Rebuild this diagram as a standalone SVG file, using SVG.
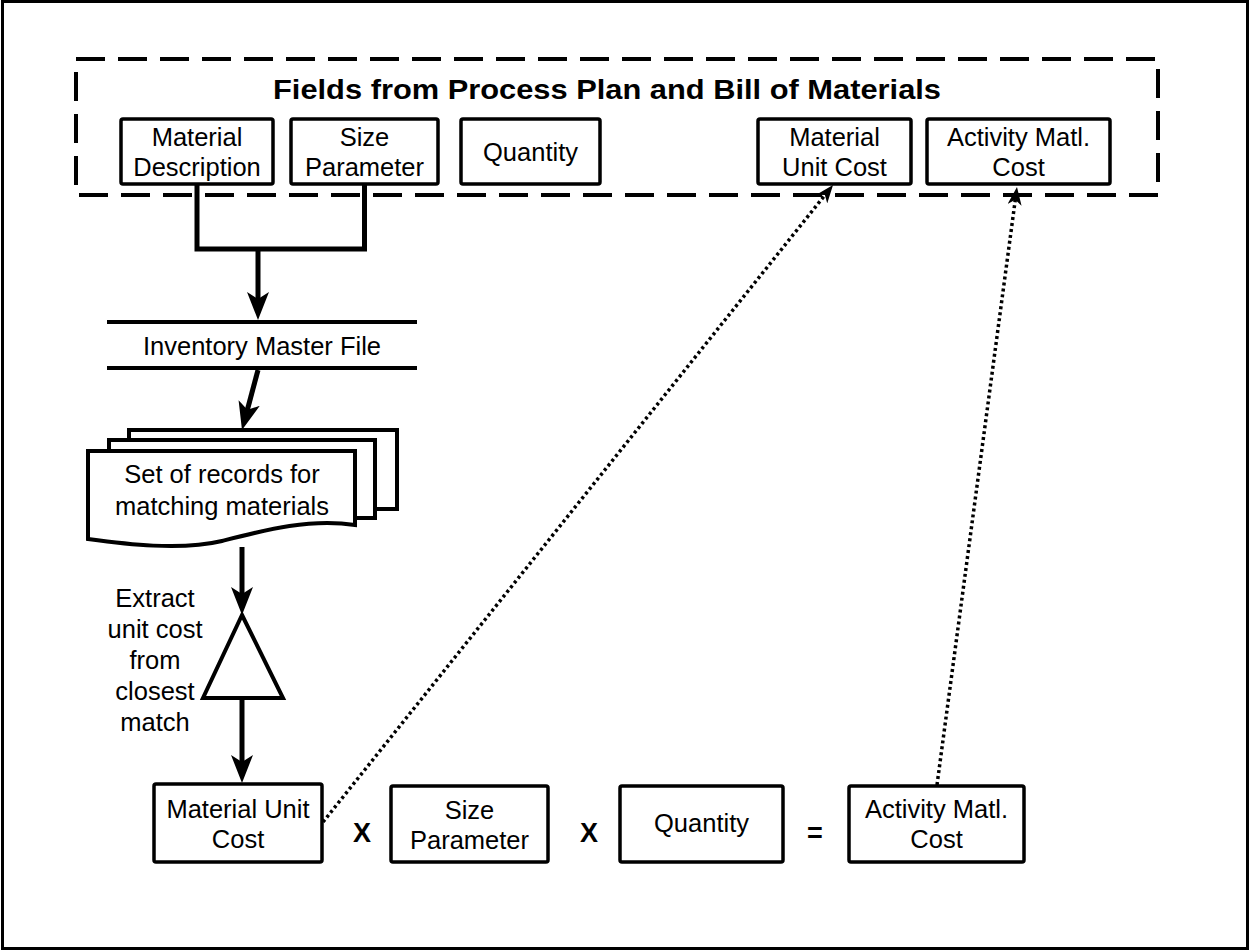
<svg xmlns="http://www.w3.org/2000/svg" width="1250" height="951" viewBox="0 0 1250 951">
  <defs>
    <style>
      .frame { fill: none; stroke: #000; stroke-width: 3; }
      .group-box { fill: none; stroke: #000; stroke-width: 4; stroke-dasharray: 29 13; }
      .box { fill: #fff; stroke: #000; stroke-width: 3.5; }
      .shape { fill: #fff; stroke: #000; stroke-width: 4; stroke-linejoin: miter; }
      .flow { fill: none; stroke: #000; stroke-width: 5; stroke-linejoin: miter; }
      .ref { fill: none; stroke: #000; stroke-width: 3.5; stroke-dasharray: 3 3; }
      .store { stroke: #000; stroke-width: 4; }
      text { font-family: "Liberation Sans", Arial, sans-serif; fill: #000; }
      .label { font-size: 25.5px; text-anchor: middle; }
      .title { font-size: 28px; font-weight: bold; text-anchor: middle; }
      .op { font-size: 27px; font-weight: bold; text-anchor: middle; }
    </style>
    <marker id="arrow" viewBox="0 0 28 22" markerWidth="28" markerHeight="22" refX="14" refY="11" orient="auto" markerUnits="userSpaceOnUse">
      <path d="M0,0 L28,11 L0,22 L7,11 Z" fill="#000"/>
    </marker>
    <marker id="arrow-small" viewBox="0 0 18 14" markerWidth="18" markerHeight="14" refX="9" refY="7" orient="auto" markerUnits="userSpaceOnUse">
      <path d="M0,0 L18,7 L0,14 L5,7 Z" fill="#000"/>
    </marker>
  </defs>

  <rect width="1250" height="951" fill="#fff"/>
  <rect class="frame" x="2.5" y="1.5" width="1245" height="947"/>

  <!-- Source fields -->
  <g id="fields-group">
    <rect class="group-box" x="76" y="59" width="1082" height="136"/>
    <text class="title" x="607" y="99" textLength="668" lengthAdjust="spacingAndGlyphs">Fields from Process Plan and Bill of Materials</text>
  </g>

  <!-- Connectors -->
  <g id="connectors">
    <path class="flow" d="M197,184 V249 H364.5 V184"/>
    <line class="flow" x1="258" y1="249" x2="258" y2="306" marker-end="url(#arrow)"/>
    <line class="flow" x1="258" y1="370" x2="245.6" y2="416.5" marker-end="url(#arrow)"/>
    <line class="flow" x1="242" y1="547" x2="242" y2="601" marker-end="url(#arrow)"/>
    <line class="flow" x1="242" y1="698" x2="242" y2="769" marker-end="url(#arrow)"/>
    <line class="ref" x1="323" y1="822" x2="827.4" y2="192" marker-end="url(#arrow-small)"/>
    <line class="ref" x1="937" y1="785" x2="1015.8" y2="195.9" marker-end="url(#arrow-small)"/>
  </g>

  <g id="field-material-description">
    <rect class="box" x="121" y="119" width="152" height="65" rx="2"/>
    <text class="label" x="197" y="146">Material</text>
    <text class="label" x="197" y="176">Description</text>
  </g>
  <g id="field-size-parameter">
    <rect class="box" x="291" y="119" width="147" height="65" rx="2"/>
    <text class="label" x="364.5" y="146">Size</text>
    <text class="label" x="364.5" y="176">Parameter</text>
  </g>
  <g id="field-quantity">
    <rect class="box" x="461" y="119" width="139" height="65" rx="2"/>
    <text class="label" x="530.5" y="161">Quantity</text>
  </g>
  <g id="field-material-unit-cost">
    <rect class="box" x="758" y="119" width="153" height="65" rx="2"/>
    <text class="label" x="834.5" y="146">Material</text>
    <text class="label" x="834.5" y="176">Unit Cost</text>
  </g>
  <g id="field-activity-matl-cost">
    <rect class="box" x="927" y="119" width="183" height="65" rx="2"/>
    <text class="label" x="1018.5" y="146">Activity Matl.</text>
    <text class="label" x="1018.5" y="176">Cost</text>
  </g>

  <!-- Data store -->
  <g id="inventory-master-file">
    <line class="store" x1="107" y1="322" x2="417" y2="322"/>
    <line class="store" x1="107" y1="368" x2="417" y2="368"/>
    <text class="label" x="262" y="355">Inventory Master File</text>
  </g>

  <!-- Multiple documents -->
  <g id="matching-records">
    <rect class="shape" x="129" y="430" width="268" height="79"/>
    <rect class="shape" x="109" y="440" width="266" height="78"/>
    <path class="shape" d="M88,451 H355 V525 C310,518 265,530 222,541 C180,551 125,544 88,539 Z"/>
    <text class="label" x="222" y="483">Set of records for</text>
    <text class="label" x="222" y="515">matching materials</text>
  </g>

  <!-- Extract operation -->
  <g id="extract-unit-cost">
    <polygon class="shape" points="242,615 283,698 203,698"/>
    <text class="label" x="155" y="607">Extract</text>
    <text class="label" x="155" y="638">unit cost</text>
    <text class="label" x="155" y="669">from</text>
    <text class="label" x="155" y="700">closest</text>
    <text class="label" x="155" y="731">match</text>
  </g>

  <!-- Cost formula -->
  <g id="calc-material-unit-cost">
    <rect class="box" x="154" y="784" width="168" height="78" rx="2"/>
    <text class="label" x="238" y="818">Material Unit</text>
    <text class="label" x="238" y="848">Cost</text>
  </g>
  <text class="op" x="362" y="842">X</text>
  <g id="calc-size-parameter">
    <rect class="box" x="391" y="786" width="157" height="76" rx="2"/>
    <text class="label" x="469.5" y="819">Size</text>
    <text class="label" x="469.5" y="849">Parameter</text>
  </g>
  <text class="op" x="589" y="842">X</text>
  <g id="calc-quantity">
    <rect class="box" x="620" y="786" width="163" height="76" rx="2"/>
    <text class="label" x="701.5" y="832">Quantity</text>
  </g>
  <text class="op" x="815" y="842">=</text>
  <g id="calc-activity-matl-cost">
    <rect class="box" x="849" y="786" width="175" height="76" rx="2"/>
    <text class="label" x="936.5" y="818">Activity Matl.</text>
    <text class="label" x="936.5" y="848">Cost</text>
  </g>
</svg>
